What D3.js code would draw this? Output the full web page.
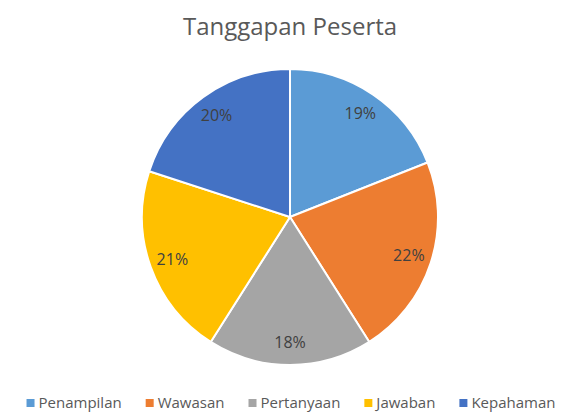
<!DOCTYPE html>
<html>
<head>
<meta charset="utf-8">
<script src="https://cdn.jsdelivr.net/npm/d3@7"></script>
<style>
  html, body { margin: 0; padding: 0; background: #ffffff; }
  svg { display: block; font-family: "Open Sans", "Noto Sans", sans-serif; }
</style>
</head>
<body>
<div id="chart"></div>
<script>
// Chart data
const categories = ['Penampilan', 'Wawasan', 'Pertanyaan', 'Jawaban', 'Kepahaman'];
const values = [19, 22, 18, 21, 20];
const colors = ['#5B9BD5', '#ED7D31', '#A5A5A5', '#FFC000', '#4472C4'];
const title = 'Tanggapan Peserta';

const width = 579;
const height = 414;

// Pie geometry
const cx = 290;
const cy = 217;
const radius = 148;
const labelRadius = 125;

const svg = d3.select('#chart').append('svg')
    .attr('width', width)
    .attr('height', height);

// Title
svg.append('text')
    .attr('x', cx)
    .attr('y', 35)
    .attr('text-anchor', 'middle')
    .style('font-size', '24px')
    .style('fill', '#595959')
    .text(title);

const rows = categories.map((c, i) => ({ name: c, value: values[i], color: colors[i] }));
const total = d3.sum(values);

const pie = d3.pie().sort(null).value(d => d.value);
const arc = d3.arc().innerRadius(0).outerRadius(radius);
const labelArc = d3.arc().innerRadius(labelRadius).outerRadius(labelRadius);

const g = svg.append('g').attr('transform', `translate(${cx},${cy})`);

// Slices
g.selectAll('path')
    .data(pie(rows))
    .enter().append('path')
    .attr('d', arc)
    .attr('fill', d => d.data.color)
    .attr('stroke', '#ffffff')
    .attr('stroke-width', 2)
    .attr('stroke-linejoin', 'round');

// Percentage labels
g.selectAll('.pct')
    .data(pie(rows))
    .enter().append('text')
    .attr('class', 'pct')
    .attr('transform', d => `translate(${labelArc.centroid(d)})`)
    .attr('text-anchor', 'middle')
    .attr('dy', '0.35em')
    .style('font-size', '16px')
    .style('fill', '#404040')
    .text(d => Math.round(d.data.value / total * 100) + '%');

// Legend, laid out from measured text widths and centered
const legend = svg.append('g');
const items = legend.selectAll('g')
    .data(rows)
    .enter().append('g');

items.append('rect')
    .attr('width', 8)
    .attr('height', 8)
    .attr('y', -9)
    .attr('fill', d => d.color);

items.append('text')
    .attr('x', 12)
    .style('font-size', '15px')
    .style('fill', '#595959')
    .text(d => d.name);

let xPos = 0;
const gap = 24;
items.each(function () {
    const w = this.getBBox().width;
    d3.select(this).attr('transform', `translate(${xPos},0)`);
    xPos += w + gap;
});
const legendWidth = xPos - gap;
legend.attr('transform', `translate(${291 - legendWidth / 2},408)`);
</script>
</body>
</html>
